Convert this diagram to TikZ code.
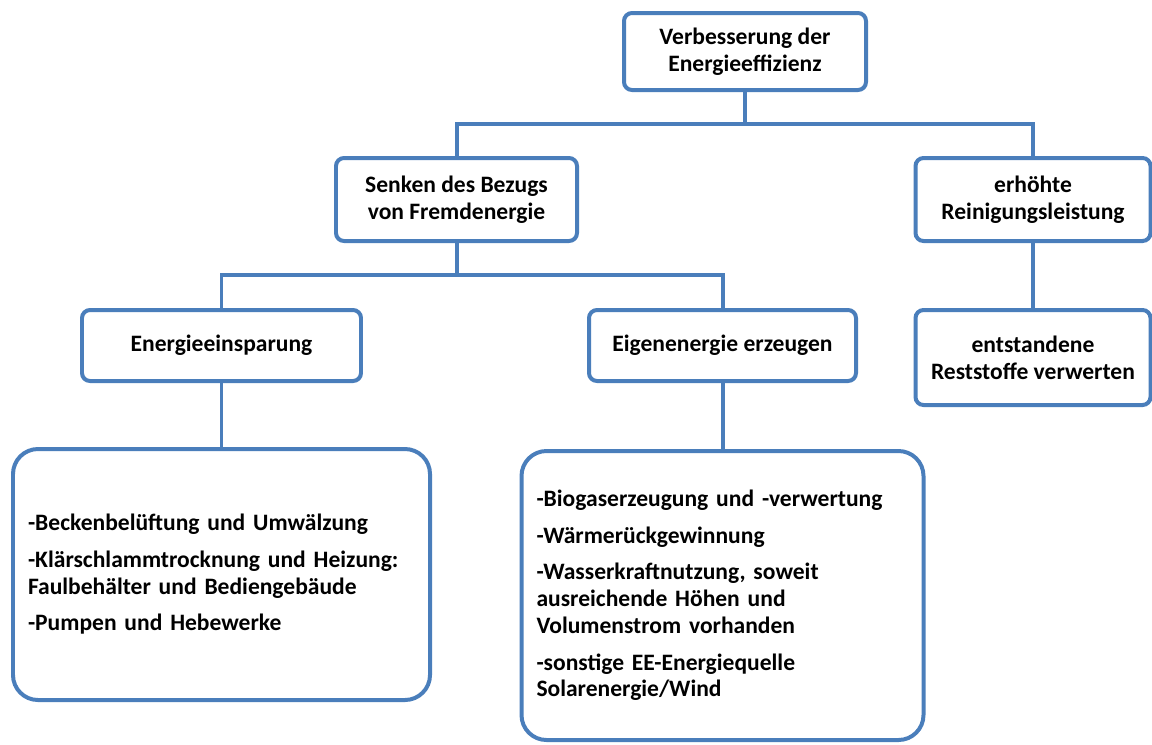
\documentclass[tikz,border=0pt]{standalone}
\usepackage{fontspec}
\setmainfont{Carlito}
\definecolor{rahmen}{RGB}{74,126,187}

\begin{document}
\begin{tikzpicture}[node distance=1cm, auto]
        \tikzstyle{box}=[draw=rahmen, line width=2.27pt, rectangle, rounded corners=0.16cm, fill=white, align=center, font=\bfseries\fontsize{13.4}{15.3}\selectfont];
        \tikzstyle{liste}=[box, rounded corners=0.5cm, align=left, inner xsep=0.3cm];
        \tikzstyle{link}=[draw=rahmen, line width=2.27pt];

        \useasboundingbox (0,0) rectangle (23.04,-14.88);

        \node[box, minimum width=4.84cm, minimum height=1.54cm] (eff) at (14.9,-1.03) {Verbesserung der\\Energieeffizienz};
        \node[box, minimum width=4.82cm, minimum height=1.66cm, below of=eff, xshift=-5.77cm, yshift=-1.96cm] (senken) {Senken des Bezugs\\von Fremdenergie};
        \node[box, minimum width=4.70cm, minimum height=1.66cm, below of=eff, xshift=5.76cm, yshift=-1.96cm] (erhoeht) {erhöhte\\Reinigungsleistung};
        \node[box, minimum width=4.70cm, minimum height=1.90cm, below of=erhoeht, yshift=-2.16cm] (rest) {entstandene\\Reststoffe verwerten};
        \node[box, minimum width=5.58cm, minimum height=1.42cm, below of=senken, xshift=-4.70cm, yshift=-1.92cm] (spar) {Energieeinsparung};
        \node[box, minimum width=5.34cm, minimum height=1.42cm, below of=senken, xshift=5.32cm, yshift=-1.92cm] (eigen) {Eigenenergie erzeugen};
        \node[liste, text width=7.74cm, minimum height=5.02cm, below of=spar, yshift=-3.58cm] (sparlist) {-Beckenbelüftung und Umwälzung\\[5.5pt]
            -Klärschlammtrocknung und Heizung:\\Faulbehälter und Bediengebäude\\[5.5pt]
            -Pumpen und Hebewerke};
        \node[liste, text width=7.44cm, minimum height=5.78cm, below of=eigen, yshift=-4.0cm] (eigenlist) {-Biogaserzeugung und -verwertung\\[5.5pt]
            -Wärmerückgewinnung\\[5.5pt]
            -Wasserkraftnutzung, soweit\\ausreichende Höhen und\\Volumenstrom vorhanden\\[5.5pt]
            -sonstige EE-Energiequelle\\Solarenergie/Wind};

        \draw[link] (eff.south) -- ++(0,-0.64) -| (senken.north);
        \draw[link] (eff.south) -- ++(0,-0.64) -| (erhoeht.north);
        \draw[link] (senken.south) -- ++(0,-0.64) -| (spar.north);
        \draw[link] (senken.south) -- ++(0,-0.64) -| (eigen.north);
        \draw[link] (erhoeht.south) -- (rest.north);
        \draw[link] (spar.south) -- (sparlist.north);
        \draw[link] (eigen.south) -- (eigenlist.north);
    \end{tikzpicture}
\end{document}
